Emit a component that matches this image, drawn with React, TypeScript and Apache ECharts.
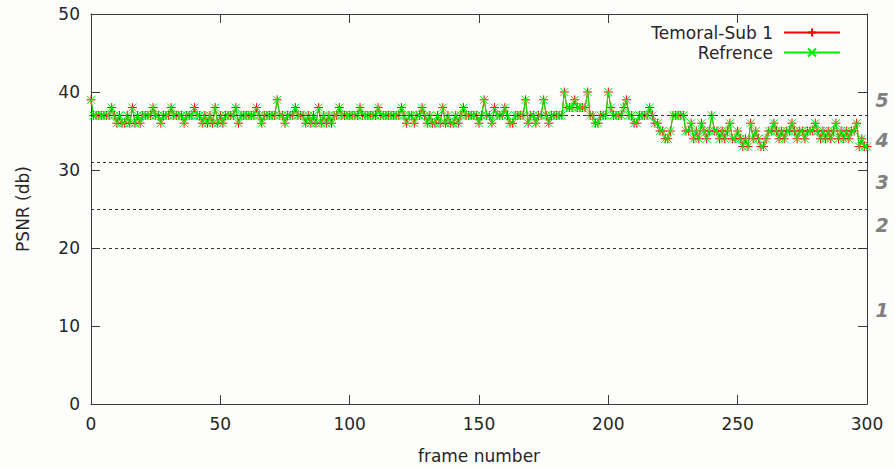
import React, { useEffect, useRef } from "react";
import * as echarts from "echarts";

// PSNR per frame (frames 0..300)
const temoralSub1Values: number[] = [
  39, 37, 37, 37, 37, 37, 37, 37, 38, 37,
  36, 37, 36, 36, 37, 36, 38, 36, 37, 36,
  37, 37, 37, 37, 38, 37, 37, 36, 37, 37,
  37, 38, 37, 37, 37, 37, 36, 37, 37, 37,
  38, 37, 37, 36, 37, 36, 37, 36, 38, 36,
  37, 36, 37, 37, 37, 37, 38, 36, 37, 37,
  37, 37, 37, 37, 38, 37, 36, 37, 37, 37,
  37, 37, 39, 37, 37, 36, 37, 37, 37, 38,
  37, 37, 37, 36, 37, 36, 37, 36, 38, 36,
  37, 36, 37, 36, 37, 37, 38, 37, 37, 37,
  37, 37, 37, 37, 38, 37, 37, 37, 37, 37,
  37, 38, 37, 37, 37, 37, 37, 37, 37, 37,
  38, 37, 36, 37, 37, 36, 37, 37, 38, 37,
  36, 37, 36, 36, 37, 36, 38, 36, 37, 36,
  36, 37, 36, 37, 38, 37, 37, 37, 37, 37,
  36, 37, 39, 37, 37, 36, 38, 37, 37, 37,
  38, 37, 36, 36, 37, 37, 37, 37, 39, 36,
  37, 37, 36, 37, 37, 39, 37, 36, 37, 37,
  37, 37, 37, 40, 38, 38, 38, 39, 38, 38,
  38, 38, 40, 37, 37, 36, 36, 37, 37, 37,
  40, 38, 37, 37, 37, 37, 38, 39, 37, 37,
  36, 36, 37, 37, 37, 37, 38, 37, 36, 36,
  35, 35, 34, 34, 35, 37, 37, 37, 37, 37,
  35, 35, 36, 34, 35, 34, 36, 35, 34, 35,
  37, 35, 35, 34, 35, 34, 35, 36, 34, 34,
  35, 34, 33, 34, 33, 36, 34, 35, 34, 33,
  33, 34, 35, 35, 36, 35, 34, 35, 34, 35,
  35, 36, 35, 34, 35, 35, 34, 35, 35, 35,
  36, 35, 34, 35, 34, 35, 34, 35, 36, 34,
  35, 34, 35, 34, 35, 35, 36, 33, 34, 33,
  33,
];

// The reference curve coincides with the Temoral-Sub 1 curve in the picture
const refrenceValues: number[] = [...temoralSub1Values];

const seriesNames = ["Temoral-Sub 1", "Refrence"];
const qualityThresholds = [37, 31, 25, 20];
const qualityLabels = ["5", "4", "3", "2", "1"];
const qualityLabelAnchors = [39, 33.8, 28.5, 22.9, 12.1];

const FONT = "DejaVu Sans";
const TEXT = "#262626";
const AXIS = "#3a3a3a";
const FS = 17;

const PLUS = "path://M5,0L5,10M0,5L10,5";
const CROSS = "path://M0,0L10,10M10,0L0,10";

export default function App() {
  const ref = useRef<HTMLDivElement>(null);

  useEffect(() => {
    document.body.style.margin = "0";
    if (!ref.current) return;
    const chart = echarts.init(ref.current, undefined, { renderer: "svg" });

    const toPairs = (vals: number[]) => vals.map((v, i) => [i, v]);

    const axisLine = { show: true, onZero: false, lineStyle: { color: AXIS, width: 1 } };
    const tickStyle = { show: true, inside: true, length: 9, lineStyle: { color: AXIS, width: 1 } };

    chart.setOption({
      animation: false,
      backgroundColor: "#fdfdfb",
      grid: { left: 91, right: 28, top: 14, bottom: 64, containLabel: false },
      legend: {
        orient: "vertical",
        right: 49,
        top: 19,
        align: "right",
        itemWidth: 56,
        itemHeight: 10,
        itemGap: 3,
        textStyle: { fontFamily: FONT, fontSize: FS, color: TEXT, padding: [0, 6, 0, 0] },
        data: seriesNames,
      },
      xAxis: [
        {
          type: "value",
          min: 0,
          max: 300,
          interval: 50,
          position: "bottom",
          name: "frame number",
          nameLocation: "middle",
          nameGap: 43,
          nameTextStyle: { fontFamily: FONT, fontSize: FS, color: TEXT },
          axisLine,
          axisTick: tickStyle,
          axisLabel: { fontFamily: FONT, fontSize: FS, color: TEXT, margin: 11 },
          splitLine: { show: false },
        },
        {
          type: "value",
          min: 0,
          max: 300,
          interval: 50,
          position: "top",
          axisLine,
          axisTick: tickStyle,
          axisLabel: { show: false },
          splitLine: { show: false },
        },
      ],
      yAxis: [
        {
          type: "value",
          min: 0,
          max: 50,
          interval: 10,
          position: "left",
          name: "PSNR (db)",
          nameLocation: "middle",
          nameGap: 60,
          nameTextStyle: { fontFamily: FONT, fontSize: FS, color: TEXT },
          axisLine,
          axisTick: tickStyle,
          axisLabel: { fontFamily: FONT, fontSize: FS, color: TEXT, margin: 11 },
          splitLine: { show: false },
        },
        {
          type: "value",
          min: 0,
          max: 50,
          interval: 10,
          position: "right",
          axisLine,
          axisTick: tickStyle,
          axisLabel: { show: false },
          splitLine: { show: false },
        },
      ],
      series: [
        {
          name: seriesNames[0],
          type: "line",
          data: toPairs(temoralSub1Values),
          symbol: PLUS,
          symbolSize: 9,
          showAllSymbol: true,
          lineStyle: { color: "#ff0000", width: 1 },
          itemStyle: { color: "#ff0000", borderColor: "#ff0000", borderWidth: 1 },
          z: 2,
        },
        {
          name: seriesNames[1],
          type: "line",
          data: toPairs(refrenceValues),
          symbol: CROSS,
          symbolSize: 8,
          showAllSymbol: true,
          lineStyle: { color: "#00ee00", width: 1 },
          itemStyle: { color: "#00ee00", borderColor: "#00ee00", borderWidth: 1 },
          z: 3,
          markLine: {
            silent: true,
            symbol: "none",
            label: { show: false },
            lineStyle: { color: "#333333", width: 1, type: [3, 3] },
            data: qualityThresholds.map((v) => ({ yAxis: v })),
            z: 4,
          },
        },
      ],
    });

    const graphics = qualityLabels.map((label, i) => {
      const p = chart.convertToPixel({ xAxisIndex: 0, yAxisIndex: 0 }, [300, qualityLabelAnchors[i]]) as number[];
      return {
        type: "text",
        x: p[0] + 15,
        y: p[1],
        style: {
          text: label,
          fontFamily: FONT,
          fontSize: 19,
          fontWeight: "bold",
          fontStyle: "italic",
          fill: "#808080",
          align: "center",
          verticalAlign: "middle",
        },
      };
    });
    chart.setOption({ graphic: graphics });

    return () => chart.dispose();
  }, []);

  return <div ref={ref} style={{ width: 895, height: 469 }} />;
}
